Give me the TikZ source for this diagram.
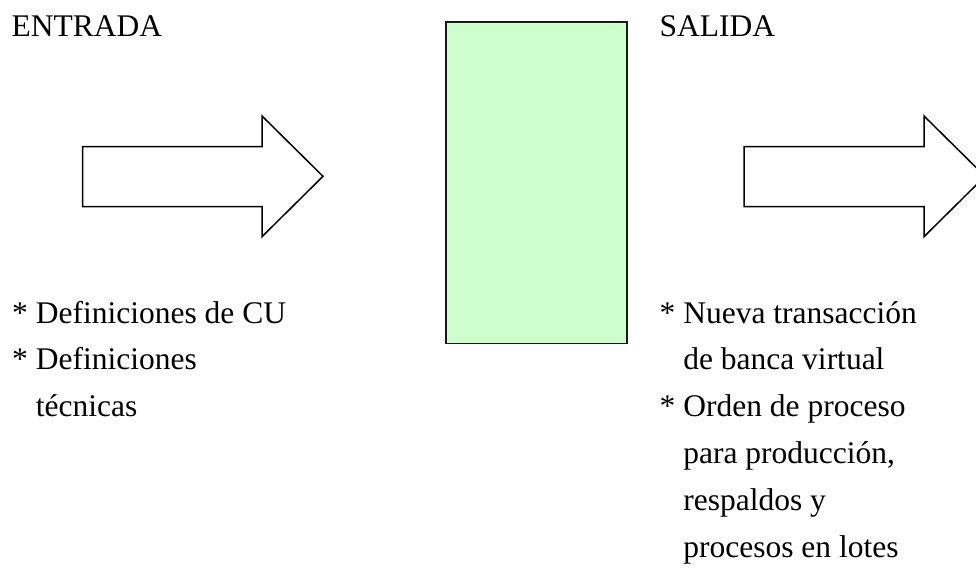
\documentclass[tikz,border=0pt]{standalone}
\usepackage{fontspec}
\setmainfont{Liberation Serif}
\definecolor{procgreen}{HTML}{CCFFCC}
\tikzset{
  txt/.style={anchor=base west, inner sep=0pt, font=\fontsize{31.5}{47}\selectfont},
  bigarrow/.style={draw=black, line width=1.5pt, fill=white, line join=miter},
  procbox/.style={draw=black!90, line width=1.6pt, fill=procgreen, inner sep=0pt}
}
\begin{document}
\begin{tikzpicture}[x=1pt, y=-1pt]
\useasboundingbox (0,0) rectangle (976,568);
\clip (0,0) rectangle (976,568);
% titles
\node[txt] (entrada) at (11.5,36) {ENTRADA};
\node[txt] (salida) at (659.5,36) {SALIDA};
% process box
\node[procbox, minimum width=181pt, minimum height=321.5pt, anchor=north west] (proc) at (445,21) {};
% input arrow
\draw[bigarrow] (82.7,146.7) -- (262,146.7) -- (262,116) -- (323,176.3) -- (262,236.7) -- (262,206.7) -- (82.7,206.7) -- cycle;
% output arrow
\draw[bigarrow] (744,146.7) -- (924,146.7) -- (924,116) -- (985,176.3) -- (924,236.7) -- (924,206.7) -- (744,206.7) -- cycle;
% input list
\node[txt] (in1) at (12,323) {* Definiciones de CU};
\node[txt] (in2) at (12,369.8) {* Definiciones};
\node[txt] (in3) at (12,416.6) {\phantom{* }técnicas};
% output list
\node[txt] (out1) at (659.5,323) {* Nueva transacción};
\node[txt] (out2) at (659.5,369.8) {\phantom{* }de banca virtual};
\node[txt] (out3) at (659.5,416.6) {* Orden de proceso};
\node[txt] (out4) at (659.5,463.4) {\phantom{* }para producción,};
\node[txt] (out5) at (659.5,510.2) {\phantom{* }respaldos y};
\node[txt] (out6) at (659.5,557) {\phantom{* }procesos en lotes};
\end{tikzpicture}
\end{document}
